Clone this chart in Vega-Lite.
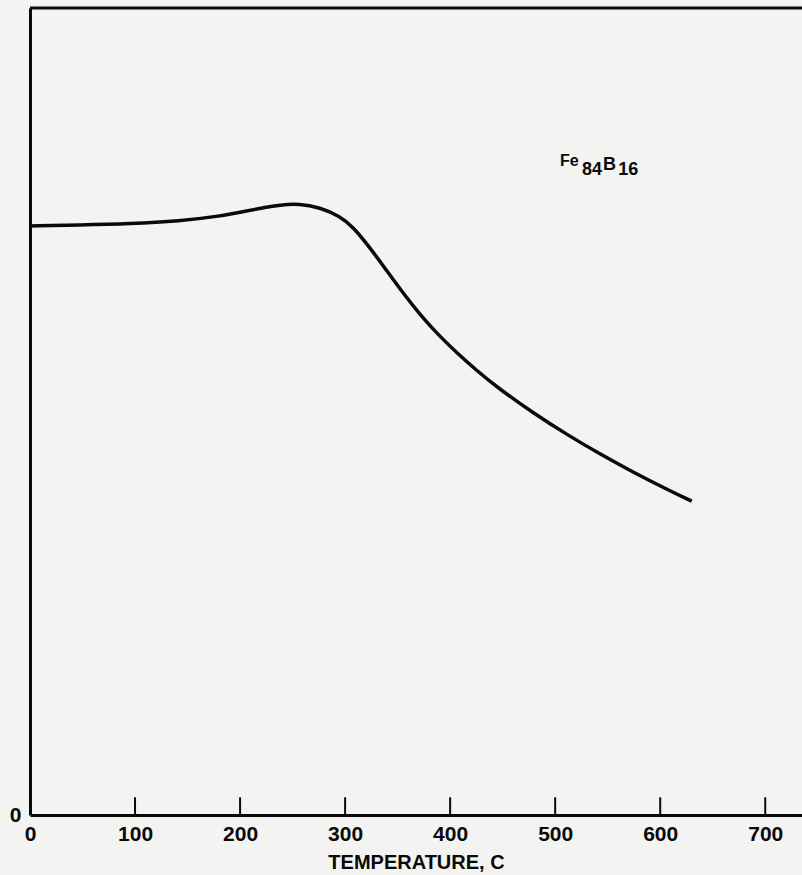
{
  "$schema": "https://vega.github.io/schema/vega-lite/v6.json",
  "autosize": {"type": "none"},
  "width": 772,
  "height": 807,
  "padding": {"left": 30, "top": 8, "right": 0, "bottom": 60},
  "background": "#f3f3f1",
  "config": {
    "view": {"stroke": null},
    "font": "Liberation Sans"
  },
  "datasets": {
    "curve": [
      {"t": 0, "v": 73.0},
      {"t": 47.6, "v": 73.1},
      {"t": 95.2, "v": 73.25},
      {"t": 142.8, "v": 73.6},
      {"t": 180.9, "v": 74.2},
      {"t": 206.6, "v": 74.85},
      {"t": 222, "v": 75.25},
      {"t": 238, "v": 75.6},
      {"t": 256, "v": 75.75},
      {"t": 276, "v": 75.3},
      {"t": 295, "v": 74.2},
      {"t": 307.5, "v": 72.9},
      {"t": 323.7, "v": 70.3},
      {"t": 339.9, "v": 67.4},
      {"t": 355, "v": 64.7},
      {"t": 371, "v": 62.06},
      {"t": 387.5, "v": 59.67},
      {"t": 402.7, "v": 57.72},
      {"t": 425.6, "v": 55.02},
      {"t": 444.6, "v": 53.02},
      {"t": 479, "v": 49.82},
      {"t": 511, "v": 47.16},
      {"t": 542.7, "v": 44.72},
      {"t": 574, "v": 42.5},
      {"t": 606.5, "v": 40.35},
      {"t": 630, "v": 38.89}
    ],
    "ticks": [
      {"t": 100}, {"t": 200}, {"t": 300}, {"t": 400}, {"t": 500}, {"t": 600}, {"t": 700}
    ],
    "labelBig": [
      {"t": 525.6, "v": 79.9, "s": "84"},
      {"t": 545.6, "v": 80.5, "s": "B"},
      {"t": 560, "v": 79.9, "s": "16"}
    ],
    "labelSmall": [
      {"t": 504.6, "v": 81.0, "s": "Fe"}
    ],
    "frame": [{"t0": 0, "t1": 735, "v": 100}]
  },
  "layer": [
    {
      "data": {"name": "curve"},
      "mark": {"type": "line", "color": "#0a0a0a", "strokeWidth": 3.5, "interpolate": "basis"},
      "encoding": {
        "x": {
          "field": "t", "type": "quantitative",
          "scale": {"domain": [0, 735], "nice": false, "zero": false},
          "axis": {
            "values": [0, 100, 200, 300, 400, 500, 600, 700],
            "title": "TEMPERATURE, C",
            "titleFont": "Liberation Sans",
            "titleFontSize": 20,
            "titleFontWeight": "bold",
            "titleColor": "#0a0a0a",
            "titlePadding": 8,
            "labelFont": "Liberation Sans",
            "labelFontSize": 21,
            "labelFontWeight": "bold",
            "labelColor": "#0a0a0a",
            "labelPadding": 8,
            "labelFlush": false,
            "labelOverlap": false,
            "ticks": false,
            "grid": false,
            "domainColor": "#0a0a0a",
            "domainWidth": 3
          }
        },
        "y": {
          "field": "v", "type": "quantitative",
          "scale": {"domain": [0, 100], "nice": false},
          "axis": {
            "values": [0],
            "title": null,
            "labelFont": "Liberation Sans",
            "labelFontSize": 21,
            "labelFontWeight": "bold",
            "labelColor": "#0a0a0a",
            "labelPadding": 9,
            "labelBaseline": "middle",
            "ticks": false,
            "grid": false,
            "domainColor": "#0a0a0a",
            "domainWidth": 3
          }
        }
      }
    },
    {
      "data": {"name": "ticks"},
      "mark": {"type": "rule", "color": "#0a0a0a", "strokeWidth": 2},
      "encoding": {
        "x": {"field": "t", "type": "quantitative"},
        "y": {"datum": 0},
        "y2": {"datum": 2.2}
      }
    },
    {
      "data": {"name": "frame"},
      "mark": {"type": "rule", "color": "#0a0a0a", "strokeWidth": 3},
      "encoding": {
        "x": {"field": "t0", "type": "quantitative"},
        "x2": {"field": "t1"},
        "y": {"field": "v", "type": "quantitative"}
      }
    },
    {
      "data": {"name": "labelBig"},
      "mark": {"type": "text", "align": "left", "baseline": "middle", "font": "Liberation Sans", "fontWeight": "bold", "fontSize": 18, "color": "#0a0a0a"},
      "encoding": {
        "x": {"field": "t", "type": "quantitative"},
        "y": {"field": "v", "type": "quantitative"},
        "text": {"field": "s"}
      }
    },
    {
      "data": {"name": "labelSmall"},
      "mark": {"type": "text", "align": "left", "baseline": "middle", "font": "Liberation Sans", "fontWeight": "bold", "fontSize": 16, "color": "#0a0a0a"},
      "encoding": {
        "x": {"field": "t", "type": "quantitative"},
        "y": {"field": "v", "type": "quantitative"},
        "text": {"field": "s"}
      }
    }
  ]
}
